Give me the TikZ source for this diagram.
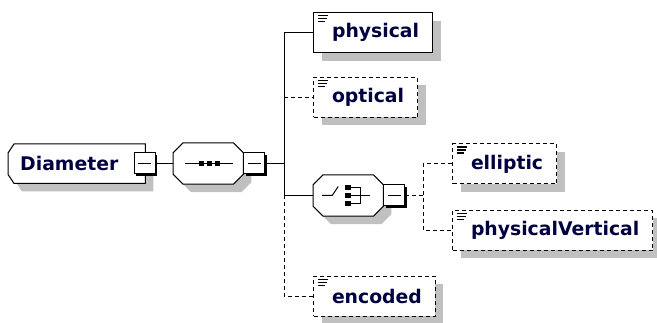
\documentclass[tikz,border=0pt]{standalone}
\usepackage{fontspec}
\setmainfont{DejaVu Sans}
\usetikzlibrary{shadows,calc}
\pgfdeclarelayer{background}
\pgfsetlayers{background,main}
\definecolor{navy}{HTML}{000040}
\definecolor{shadowgray}{HTML}{C0C0C0}
\newcommand{\elemfont}{\bfseries\fontsize{18.8pt}{22pt}\selectfont}
% outline of a box with cut corners: node, left x, left y, right x, right y
\newcommand{\cutbox}[5]{([xshift=#2]#1.north west) -- ([xshift=-#4]#1.north east)
  -- ([yshift=-#5]#1.north east) -- ([yshift=#5]#1.south east)
  -- ([xshift=-#4]#1.south east) -- ([xshift=#2]#1.south west)
  -- ([yshift=#3]#1.south west) -- ([yshift=-#3]#1.north west) -- cycle}
\newcommand{\drawcut}[5]{%
  \begin{pgfonlayer}{background}
    \fill[shadowgray, transform canvas={xshift=8pt, yshift=-8pt}] \cutbox{#1}{#2}{#3}{#4}{#5};
    \filldraw[fill=white, line width=1pt] \cutbox{#1}{#2}{#3}{#4}{#5};
  \end{pgfonlayer}}
\tikzset{
  grayshadow/.style={general shadow={fill=shadowgray, shadow xshift=8pt, shadow yshift=-8pt}},
  topbox/.style={rectangle, anchor=north west, inner xsep=12pt, inner ysep=0pt,
    text width=113pt, align=left, minimum height=39pt, text=navy, font=\elemfont},
  octo/.style={rectangle, anchor=west, inner sep=0pt, minimum width=70pt, minimum height=41pt},
  minusbox/.style={draw, fill=white, line width=1pt, minimum size=21pt, inner sep=0pt,
    general shadow={fill=black, shadow xshift=2pt, shadow yshift=-2pt},
    path picture={\draw[line width=1.4pt] ([xshift=4pt]path picture bounding box.west)
      -- ([xshift=-4pt]path picture bounding box.east);}},
  elem/.style={draw, fill=white, line width=1.2pt, anchor=north west, minimum height=40pt,
    inner xsep=13.5pt, inner ysep=0pt, text=navy, font=\elemfont,
    execute at begin node={\hspace*{5pt}}, grayshadow,
    path picture={\draw[solid, line width=1.2pt]
      ([shift={(4,3)}]path picture bounding box.north west) -- ++(10,0)
      ([shift={(4,6)}]path picture bounding box.north west) -- ++(9,0)
      ([shift={(4,9)}]path picture bounding box.north west) -- ++(7,0);}},
  optelem/.style={elem, line width=1pt, dash pattern=on 4pt off 3pt},
  link/.style={line width=1pt},
  optlink/.style={line width=1pt, dash pattern=on 4pt off 3pt}
}
\begin{document}
\begin{tikzpicture}[x=1pt, y=-1pt]
  \useasboundingbox (0,0) rectangle (657,323);
  % root element and sequence
  \node[topbox] (diam) at (8,144) {Diameter};
  \drawcut{diam}{6pt}{9pt}{0pt}{0pt}
  \node[minusbox] (dmin) at (144.5,163.5) {};
  \node[octo] (seq) at (173,163.5) {};
  \drawcut{seq}{10pt}{10pt}{10pt}{10pt}
  \node[minusbox, anchor=west] (seqmin) at (seq.east) {};
  \begin{scope}[shift={(seq.center)}]
    \draw[line width=1pt] (-23,0) -- (25,0);
    \foreach \sx in {-7,1,9}
      \fill (\sx-2.5,-2.5) rectangle (\sx+2.5,2.5);
  \end{scope}
  % choice
  \node[octo] (choice) at (313,195.5) {};
  \drawcut{choice}{10pt}{10pt}{10pt}{10pt}
  \node[minusbox, anchor=west] (chmin) at (choice.east) {};
  \begin{scope}[shift={(choice.center)}]
    \draw[line width=1pt] (-26,0) -- (-16,0) -- (-10,-9);
    \foreach \sy in {-8,0,8.5}
      \fill (-3,\sy-2.5) rectangle (2.5,\sy+2.5);
    \draw[line width=1pt] (2.5,-8) -- (12,-8) -- (12,8.5) -- (2.5,8.5);
    \draw[line width=1pt] (2.5,0) -- (22,0);
  \end{scope}
  % child elements
  \node[elem] (physical) at (313,12) {physical};
  \node[optelem] (optical) at (313,77) {optical};
  \node[optelem] (elliptic) at (452,143.5) {elliptic};
  \node[optelem] (physvert) at (452,210) {physicalVertical};
  \node[optelem] (encoded) at (313,276) {encoded};
  % connectors
  \draw[link] (dmin.east) -- (seq.west);
  \coordinate (fork) at ($(seqmin.east)+(19,0)$);
  \draw[link] (seqmin.east) -- (fork);
  \draw[link] (physical.west) -| (fork) |- (choice.west);
  \draw[optlink] (fork |- optical.west) -- (optical.west);
  \draw[optlink] (fork |- choice.west) |- (encoded.west);
  \coordinate (fork2) at ($(chmin.east)+(18,0)$);
  \draw[optlink] (chmin.east) -- (fork2);
  \draw[optlink] (elliptic.west) -| (fork2) |- (physvert.west);
\end{tikzpicture}
\end{document}
